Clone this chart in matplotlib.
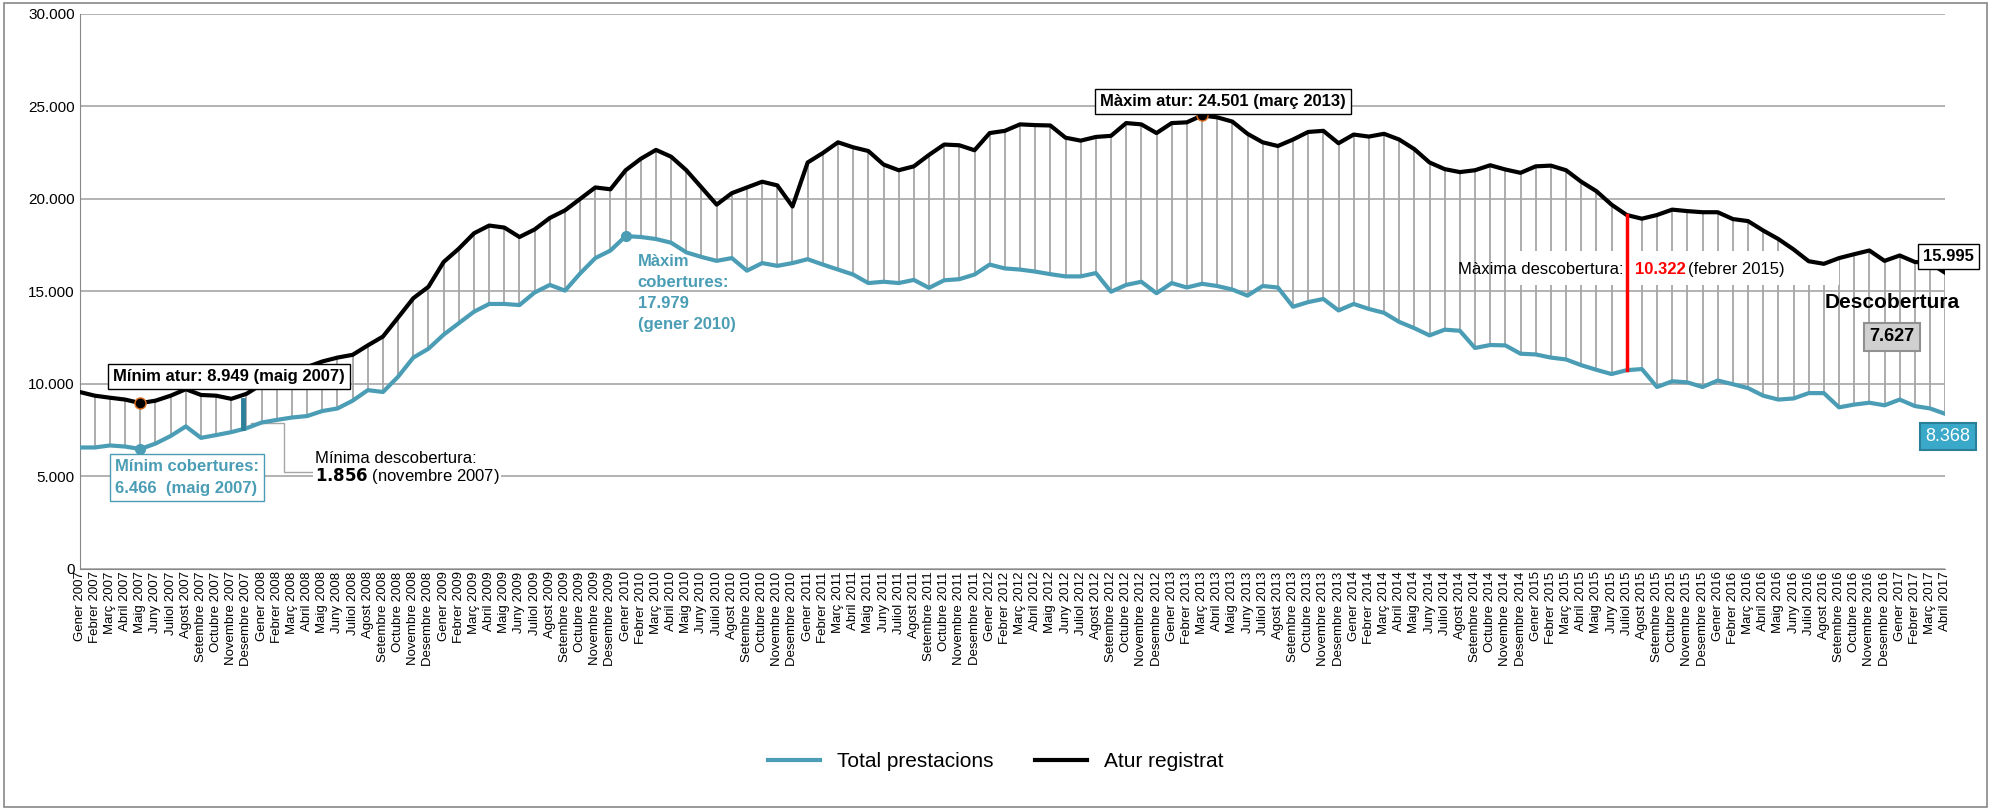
import matplotlib
matplotlib.use("Agg")
import matplotlib.pyplot as plt
from matplotlib.patches import Rectangle

plt.rcParams['font.family'] = ['Liberation Sans', 'DejaVu Sans']

months = ["Gener", "Febrer", "Març", "Abril", "Maig", "Juny", "Juliol", "Agost",
          "Setembre", "Octubre", "Novembre", "Desembre"]
labels = [f"{months[i % 12]} {2007 + i // 12}" for i in range(124)]

atur = [9550, 9350, 9240, 9140, 8949, 9080, 9350, 9700, 9390, 9350, 9180, 9450,
        9970, 10280, 10590, 10900, 11200, 11410, 11560, 12070, 12550, 13580, 14620, 15240,
        16580, 17300, 18130, 18550, 18440, 17930, 18340, 18960, 19370, 19990, 20610, 20510,
        21540, 22160, 22640, 22270, 21540, 20610, 19680, 20300, 20610, 20920, 20720, 19580,
        21960, 22470, 23050, 22780, 22580, 21850, 21540, 21750, 22370, 22930, 22890, 22620,
        23550, 23670, 24020, 23980, 23960, 23300, 23140, 23340, 23400, 24090, 24020, 23550,
        24090, 24130, 24501, 24400, 24170, 23510, 23050, 22850, 23200, 23610, 23670, 23000,
        23470, 23360, 23510, 23200, 22680, 21960, 21600, 21440, 21540, 21810, 21580, 21400,
        21750, 21790, 21540, 20920, 20410, 19680, 19120, 18920, 19120, 19410, 19330, 19270,
        19270, 18900, 18790, 18280, 17820, 17260, 16620, 16480, 16790, 17000, 17200, 16640,
        16930, 16580, 16520, 15995]
prestacions = [6550, 6550, 6660, 6600, 6466, 6760, 7170, 7690, 7070, 7220, 7380, 7590,
               7900, 8040, 8170, 8250, 8520, 8660, 9080, 9650, 9550, 10380, 11410, 11890,
               12650, 13270, 13890, 14310, 14310, 14250, 14930, 15340, 15030, 15960, 16790, 17200,
               17979, 17930, 17820, 17620, 17100, 16850, 16640, 16790, 16110, 16520, 16370, 16520,
               16730, 16440, 16170, 15900, 15440, 15510, 15440, 15610, 15180, 15590, 15650, 15900,
               16440, 16230, 16170, 16060, 15920, 15800, 15800, 15980, 14970, 15340, 15510, 14890,
               15440, 15200, 15400, 15280, 15090, 14760, 15280, 15200, 14160, 14410, 14580, 13960,
               14310, 14040, 13830, 13340, 13000, 12610, 12920, 12860, 11930, 12090, 12070, 11620,
               11580, 11410, 11310, 11000, 10750, 10520, 10730, 10790, 9820, 10130, 10070, 9820,
               10170, 9970, 9760, 9350, 9140, 9200, 9490, 9490, 8720, 8870, 8970, 8830,
               9140, 8790, 8660, 8368]

x = list(range(len(labels)))
teal = "#4A9DB5"

fig = plt.figure(figsize=(19.91, 8.10), dpi=100)
fig.patches.append(Rectangle((0.002, 0.004), 0.996, 0.992, transform=fig.transFigure,
                             fill=False, edgecolor="#888888", lw=1.2))
ax = fig.add_axes([0.040, 0.298, 0.937, 0.685])

for xi, a, p in zip(x, atur, prestacions):
    ax.plot([xi, xi], [p, a], color="#A6A6A6", lw=1.3, zorder=1)

ax.plot(x, prestacions, color=teal, lw=3, zorder=3, label="Total prestacions")
ax.plot(x, atur, color="black", lw=3, zorder=3, label="Atur registrat")

ax.set_xlim(0, 123)
ax.set_ylim(0, 30000)
ax.set_yticks(range(0, 30001, 5000))
ax.set_yticklabels(["0", "5.000", "10.000", "15.000", "20.000", "25.000", "30.000"], fontsize=11)
ax.set_xticks(x)
ax.set_xticklabels(labels, rotation=90, fontsize=9.5)
ax.tick_params(axis='x', length=0, pad=2)
ax.tick_params(axis='y', length=0)
ax.yaxis.grid(True, color="#A6A6A6", lw=1.2)
ax.set_axisbelow(True)
for s in ["top", "right"]:
    ax.spines[s].set_visible(False)
for s in ["left", "bottom"]:
    ax.spines[s].set_color("#888888")

ax.plot(4, atur[4], 'o', ms=8, mfc="black", mec="#E07020", zorder=5)
ax.plot(74, atur[74], 'o', ms=8, mfc="black", mec="#E07020", zorder=5)
ax.plot(4, prestacions[4], 'o', ms=7, color=teal, zorder=5)
ax.plot(36, prestacions[36], 'o', ms=7, color=teal, zorder=5)

box = dict(boxstyle="square,pad=0.3", fc="white", ec="black", lw=1)
ax.text(2.2, 10150, "Mínim atur: 8.949 (maig 2007)", fontsize=12, fontweight="bold", bbox=box, zorder=6)
ax.text(67.3, 25000, "Màxim atur: 24.501 (març 2013)", fontsize=12, fontweight="bold", bbox=box, zorder=6)
ax.text(2.3, 4100, "Mínim cobertures:\n6.466  (maig 2007)", fontsize=12, fontweight="bold", color=teal,
        linespacing=1.6, bbox=dict(boxstyle="square,pad=0.3", fc="white", ec=teal, lw=1), zorder=6)
ax.text(36.8, 14900, "Màxim\ncobertures:\n17.979\n(gener 2010)", fontsize=12, fontweight="bold",
        color=teal, va="center", linespacing=1.5, zorder=6)

ax.plot([10.8, 10.8], [prestacions[10] + 250, atur[10] - 80], color="#2E7F99", lw=3.5, zorder=4)
ax.plot([11.3, 13.5, 13.5, 15.3], [7900, 7900, 5200, 5200], color="#A6A6A6", lw=1, zorder=2)
ax.text(15.5, 5950, "Mínima descobertura:", fontsize=12, va="center", zorder=6,
        bbox=dict(fc="white", ec="none", pad=1))
ax.text(15.5, 5000, r"$\bf{1.856}$ (novembre 2007)", fontsize=12, va="center", zorder=6,
        bbox=dict(fc="white", ec="none", pad=1))

# maximal gap
ax.add_patch(Rectangle((94.6, 15350), 21.4, 1850, fc="white", ec="none", zorder=2))
ax.plot([102, 102], [prestacions[102], atur[102]], color="red", lw=2.5, zorder=7)
t1 = ax.text(101.8, 16200, "Màxima descobertura:", fontsize=12, va="center", ha="right", zorder=8)
t2 = ax.annotate("10.322", xy=(1, 0.5), xycoords=t1, xytext=(8, 0), textcoords="offset points",
                 va="center", fontsize=12, color="red", fontweight="bold", zorder=8)
ax.annotate("(febrer 2015)", xy=(1, 0.5), xycoords=t2, xytext=(2, 0), textcoords="offset points",
            va="center", fontsize=12, zorder=8)

ax.text(123.2, 16650, "15.995", fontsize=12, fontweight="bold", ha="center", bbox=box, zorder=6)
ax.text(119.5, 14100, "Descobertura", fontsize=15, fontweight="bold", ha="center", zorder=6)
ax.text(119.5, 12300, "7.627", fontsize=13, fontweight="bold", ha="center",
        bbox=dict(boxstyle="square,pad=0.3", fc="#D0D0D0", ec="#909090", lw=1.5), zorder=6)
ax.text(123.2, 6900, "8.368", fontsize=13, color="white", ha="center",
        bbox=dict(boxstyle="square,pad=0.3", fc="#3AA8C8", ec="#2A7F99", lw=1.5), zorder=6)

fig.legend(loc="lower center", bbox_to_anchor=(0.5, 0.025), ncol=2, frameon=False,
           fontsize=15, handlelength=2.5, columnspacing=2)

fig.savefig("out.png", dpi=100)
